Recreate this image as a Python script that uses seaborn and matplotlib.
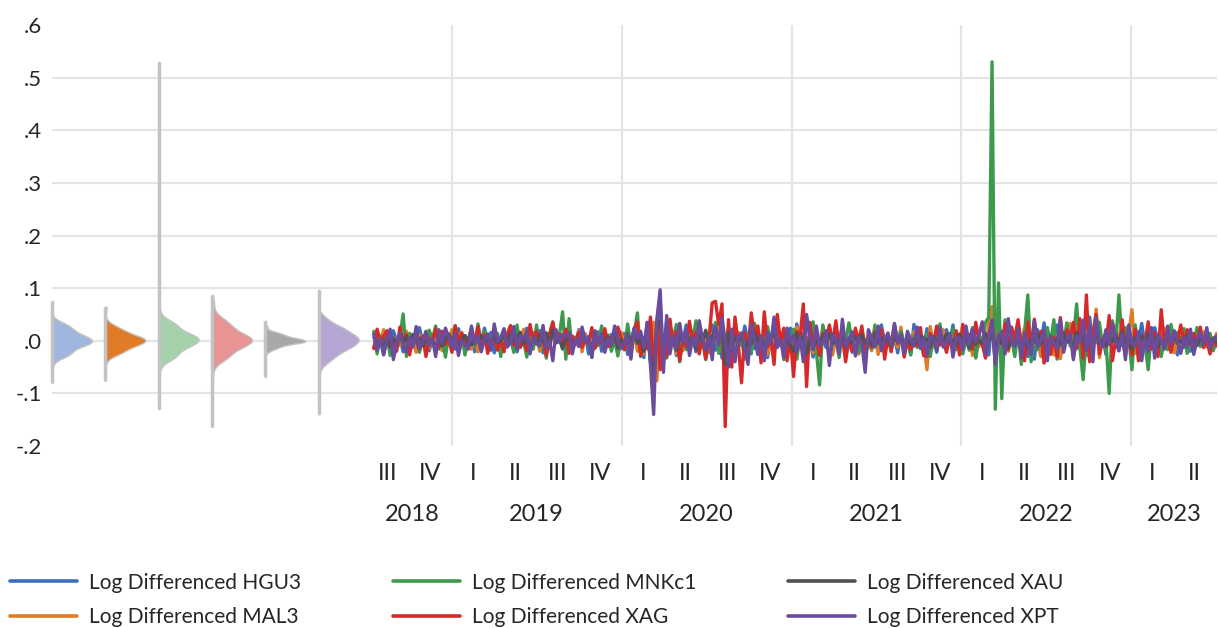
import numpy as np
import pandas as pd
import matplotlib
matplotlib.use("Agg")
import matplotlib.pyplot as plt
import matplotlib.dates as mdates
from matplotlib.lines import Line2D
import seaborn as sns

# ---------------- data ----------------
series_names = ["HGU3", "MAL3", "MNKc1", "XAG", "XAU", "XPT"]
legend_prefix = "Log Differenced "
line_colors = ["#3b6fbe", "#e07b28", "#3d9a4c", "#d62a2a", "#515151", "#6b4c9c"]
violin_colors = ["#9fb7de", "#e07b28", "#a5d2ab", "#e89495", "#a8a8a8", "#b6a6d3"]
quarter_labels = ["I", "II", "III", "IV"]
y_ticks = [-0.2, -0.1, 0.0, 0.1, 0.2, 0.3, 0.4, 0.5, 0.6]
y_tick_labels = ["-.2", "-.1", ".0", ".1", ".2", ".3", ".4", ".5", ".6"]
start_date = "2018-07-17"   # weekly observations

hgu3 = [
    .014, -.004, .003, -.026, .009, -.013, .019, -.001, .006, -.021,
    .016, -.008, .002, -.015, .025, -.005, .012, -.019, .001, -.01,
    .021, -.003, .013, -.007, .004, -.016, .023, -.001, .009, -.012,
    .005, -.021, .011, -.002, .024, -.008, .016, -.023, .001, .004,
    -.018, .007, -.003, .012, -.021, .001, -.009, .024, -.006, .015,
    -.004, .019, -.023, .005, -.011, .025, -.002, .008, -.016, .001,
    -.019, .003, -.006, .021, -.001, .013, -.025, .006, -.009, .017,
    -.02, .003, -.008, .012, -.001, .022, -.005, .014, -.026, .002,
    .023, -.011, .004, -.032, .035, -.04, -.08, .03, .076, -.035,
    .04, -.012, .006, -.028, .016, -.003, .03, -.007, .009, -.021,
    .029, -.005, .012, -.001, .03, -.018, .008, -.033, .004, -.011,
    .021, -.027, .003, -.009, .028, -.002, .033, -.015, .006, -.029,
    .017, -.032, .005, -.012, .034, -.001, .009, -.004, .024, -.018,
    .032, -.009, .015, -.006, .002, -.031, .018, -.024, .003, -.013,
    .026, -.003, .011, -.004, .028, -.017, .001, -.022, .006, -.025,
    .014, -.028, .005, -.009, .023, -.001, .03, -.003, .012, -.019,
    .008, -.023, .016, -.006, .002, -.027, .031, -.011, .004, -.014,
    .023, -.007, .003, -.022, .012, -.001, .021, -.005, .03, -.013,
    .006, -.024, .017, -.004, .025, -.031, .009, -.002, .014, -.027,
    .038, -.045, .035, -.04, .005, -.012, .026, -.008, .031, -.003,
    .013, -.03, .004, -.035, .021, -.006, .034, -.005, .011, -.022,
    .03, -.007, .016, -.002, .026, -.031, .005, -.014, .003, -.028,
    .045, -.01, .022, -.004, .008, -.026, .036, -.001, .017, -.005,
    .011, -.025, .006, -.03, .016, -.002, .033, -.009, .004, -.016,
    .025, -.001, .012, -.005, .028, -.011, .006, -.027, .003, -.013,
    .012, -.02, .004, -.008, .021, -.001, .009, -.016, .003, -.007,
]

mal3 = [
    -.012, .005, -.003, .021, -.008, .001, -.015, .004, -.009, .013,
    .018, -.006, .002, -.022, .011, -.001, .005, -.014, .008, -.003,
    .013, -.019, .004, -.007, .021, -.002, .01, .016, -.003, -.009,
    -.016, .005, -.021, .008, -.001, .012, -.004, .017, -.011, .002,
    .017, -.004, .009, -.018, .002, -.013, .022, -.006, .003, -.011,
    .006, -.02, .011, .001, -.015, .021, -.004, .009, -.005, .013,
    -.017, .002, -.008, .019, -.021, .012, -.001, .005, -.014, .007,
    .013, -.005, .001, -.012, .02, -.003, .016, -.008, .004, -.018,
    .018, -.02, .006, -.025, .03, -.009, .035, -.076, .028, -.012,
    .025, -.004, .011, -.024, .002, -.019, .003, -.006, .018, -.001,
    .024, -.008, .005, -.023, .014, -.002, .028, -.003, .009, -.027,
    .007, -.024, .016, -.006, .001, -.012, .019, .004, .027, -.01,
    .012, -.026, .003, -.001, .025, -.009, .006, -.018, .002, -.022,
    .026, -.005, .008, -.015, .001, -.023, .004, -.011, .027, -.002,
    .013, -.027, .009, -.003, .02, -.006, .001, -.016, .005, -.025,
    .021, -.004, .002, -.019, .011, -.026, .007, -.001, .015, -.008,
    .004, -.012, .026, -.028, .003, -.007, .017, -.002, .009, -.005,
    -.055, .027, -.012, .004, -.003, .021, -.014, .008, -.002, .013,
    -.016, .03, -.005, .009, -.028, .002, -.011, .006, -.031, .035,
    .065, -.04, .045, -.038, .005, -.02, .013, -.007, .03, -.004,
    .024, -.008, .011, -.006, .001, -.03, .019, -.014, .003, -.027,
    .01, -.034, .005, -.002, .033, -.016, .035, -.009, .007, -.019,
    .021, -.005, .06, -.032, .004, -.014, .013, -.001, .029, -.003,
    .006, -.028, .012, .059, -.024, .005, -.01, .002, -.022, .018,
    -.015, .002, -.004, .024, -.009, .016, -.023, .003, -.011, .019,
    -.021, .004, -.008, .005, -.001, .017, -.012, .009, -.004, .014,
]

mnkc1 = [
    .018, -.025, .009, -.004, .012, -.028, .002, -.015, .006, .051,
    -.03, .014, -.008, .005, -.022, .001, -.019, .02, .003, .028,
    -.016, .006, -.031, .011, -.003, .029, -.004, .013, -.027, .002,
    .025, -.01, .032, -.006, .018, -.002, .008, .002, .014, -.03,
    .021, -.007, .005, -.022, .03, -.012, .001, -.031, .004, -.016,
    .03, -.011, .006, -.033, .013, .036, -.003, .008, .055, -.035,
    .042, -.02, .007, -.005, .023, -.001, .003, -.032, .016, -.009,
    .028, -.004, .011, -.02, .002, -.029, .006, -.017, .032, -.012,
    .015, .053, -.03, .006, -.005, .02, -.05, .034, -.008, .012,
    -.033, .016, .004, .031, -.04, .009, -.017, .006, -.001, .038,
    -.018, .002, -.036, .005, -.011, .035, -.024, .01, -.003, .026,
    -.03, .016, -.007, .004, -.035, .012, -.025, .033, -.006, .001,
    -.012, .027, -.005, .034, -.001, .014, -.036, .002, -.009, .022,
    -.035, .01, -.018, .006, -.003, .036, -.02, -.084, .03, -.004,
    .021, -.008, .005, -.032, .013, -.002, .034, -.003, .017, -.022,
    .006, -.031, .004, -.015, .03, -.007, .013, -.021, .001, -.009,
    .03, -.004, .018, -.005, .002, -.026, .009, -.013, .003, -.028,
    .014, -.03, .007, -.001, .032, -.011, .006, -.004, .023, -.017,
    .009, -.025, .004, -.018, .024, -.033, .012, -.006, .035, .045,
    .53, -.13, .11, -.11, .04, -.015, .005, -.03, .018, -.045,
    .016, .087, -.04, .004, -.017, .01, -.042, .025, -.006, .04,
    -.035, .018, -.005, .034, -.01, .003, .07, -.013, -.074, .012,
    -.036, .02, -.004, .035, -.01, .003, -.1, .038, -.012, .087,
    -.01, .025, .006, -.055, .03, -.013, .008, -.005, -.055, .02,
    -.015, .008, -.03, .004, -.017, .031, -.002, .016, -.003, .023,
    -.024, .007, -.006, .025, -.011, .002, .003, .014, -.019, .001,
]

xag = [
    -.015, .022, -.003, .008, .019, -.011, .001, -.02, .026, -.004,
    .012, -.027, .006, .002, -.016, .009, -.03, .005, -.001, .023,
    -.012, .018, -.007, .004, -.022, .028, -.002, .014, -.009, .003,
    .016, -.004, .027, -.006, .011, -.024, .001, .009, -.018, .005,
    -.021, .013, .029, -.008, .003, -.012, .006, -.019, .031, -.002,
    .018, -.005, .004, -.028, .011, .035, -.001, .013, -.007, .022,
    -.024, .009, -.003, .016, -.012, .002, -.006, .025, -.014, .001,
    -.004, .023, -.011, .007, -.002, .026, .005, -.017, .013, -.03,
    .022, .036, -.028, .006, -.015, .045, -.063, .04, -.055, .012,
    -.03, .041, -.007, .018, -.038, .004, -.011, .037, -.002, .016,
    -.025, .009, -.034, .003, .072, .075, .03, .07, -.163, .04,
    -.05, .045, -.006, -.08, .015, -.02, .053, .004, .028, -.042,
    .055, -.012, .005, -.045, .05, -.003, .024, -.038, .007, -.068,
    .018, .008, .07, -.087, .035, -.011, .004, -.028, .013, -.002,
    .03, -.006, .038, -.014, .009, -.04, .003, -.019, .024, -.001,
    .028, -.033, .005, -.012, .017, -.004, .022, -.035, .008, -.021,
    .03, -.005, .011, -.031, .002, -.017, .003, -.009, .025, -.028,
    -.03, .014, -.004, .028, -.008, .001, -.022, .006, -.013, .019,
    -.027, .031, .005, .012, -.016, .035, -.002, -.007, -.033, .01,
    .038, -.04, .011, -.006, .033, -.017, .025, .004, .04, -.009,
    -.038, .036, -.013, .041, -.005, .018, -.042, .003, -.026, .007,
    -.031, .044, -.009, .021, .006, .035, -.015, .042, -.033, .087,
    -.04, .016, .05, -.025, .004, -.011, .048, -.038, .002, -.019,
    .04, -.012, .005, -.027, .022, -.038, .009, -.004, .036, -.015,
    .016, -.03, .059, -.008, .006, -.022, .011, -.002, .03, -.005,
    .021, -.007, .014, -.003, .026, -.013, .001, -.025, .005, -.01,
]

xau = [
    .006, -.002, .001, -.007, .004, -.012, .003, -.001, .009, -.005,
    .008, -.003, .012, -.001, .005, -.009, .002, -.006, .001, -.011,
    .004, -.01, .002, .013, -.001, .006, -.008, .002, .01, -.003,
    -.008, .005, -.002, .009, -.001, .003, -.013, .007, -.004, .001,
    .01, -.003, .014, -.001, .006, .016, -.005, .002, -.012, .004,
    -.006, .012, -.001, .015, -.009, .02, -.004, .003, -.014, .002,
    .009, -.011, .001, -.005, .014, -.002, .003, -.013, .006, -.001,
    .012, -.004, .007, -.001, .011, -.014, .002, -.006, .013, -.003,
    .015, -.005, .004, -.02, .025, -.035, -.068, .03, .038, -.025,
    .028, -.009, .003, -.018, .007, -.001, .019, -.004, .002, -.016,
    .012, -.002, .02, -.008, .006, .025, .003, .028, -.045, .015,
    -.02, .007, -.003, .012, -.018, .001, -.006, .016, -.002, .009,
    -.014, .004, -.001, .018, -.007, .003, -.017, .001, -.009, -.02,
    .014, -.003, .008, -.024, .002, -.011, .001, -.006, .01, -.002,
    .013, -.005, .003, -.001, .009, -.012, .001, -.004, .007, -.002,
    .011, -.003, .002, -.008, .014, -.001, .006, -.003, .004, -.01,
    .005, -.002, .011, -.013, .001, -.006, .003, -.004, .009, -.001,
    .003, -.012, .008, -.001, .006, -.002, .013, -.004, .001, -.009,
    .013, -.003, .005, -.014, .002, -.007, .001, -.004, .014, -.002,
    .02, -.018, .006, -.005, .004, -.013, .002, -.008, .001, -.014,
    .007, -.015, .003, -.002, .014, -.006, .001, -.016, .002, -.005,
    .004, -.008, .015, -.003, .001, -.012, .016, -.002, .006, -.018,
    .009, -.003, .018, -.004, .002, -.011, .007, -.001, .012, -.006,
    .017, -.002, .003, -.016, .006, -.001, .009, -.004, .013, -.003,
    .005, -.011, .001, -.003, .01, -.002, .014, -.006, .001, -.008,
    .01, -.004, .002, -.009, .003, -.001, .008, -.003, .005, -.002,
]

xpt = [
    .012, -.018, .004, -.027, .001, .022, -.036, -.006, .015, -.009,
    -.022, .006, -.012, .027, -.015, -.001, .018, -.009, .004, -.03,
    .019, -.004, .024, .007, -.011, .014, -.028, .001, -.006, -.016,
    .028, -.006, .009, -.021, .003, .013, -.018, .032, -.001, .007,
    .023, -.012, -.004, .027, -.016, .01, .002, .018, -.025, .006,
    -.005, -.009, .029, -.014, .001, -.038, .021, -.003, .012, .007,
    .016, -.025, .004, -.011, .026, -.002, .008, -.031, .019, -.006,
    .013, -.022, .004, -.009, .028, .001, -.015, -.006, .011, -.035,
    .024, .005, .018, -.012, .035, -.045, -.14, .042, .097, -.06,
    .048, -.025, .009, -.014, .033, -.004, .021, -.028, .006, -.011,
    .038, .004, -.018, .011, -.036, .027, -.008, .044, -.002, -.05,
    .022, -.04, .007, .015, -.012, -.045, .031, .003, -.026, .009,
    -.038, .016, -.006, .045, -.013, .002, -.032, .024, -.004, .011,
    -.021, .008, -.04, .05, .006, -.017, .028, -.009, -.003, .019,
    -.047, .013, .002, -.025, .041, -.011, .004, .017, -.029, .007,
    -.006, -.06, .021, .005, -.012, .028, -.019, .001, .014, -.009,
    .033, -.004, .012, -.024, .018, .002, -.01, .026, -.015, .007,
    -.028, .009, .003, -.019, .025, -.012, -.001, .014, -.031, .006,
    .005, -.017, .028, -.008, .021, -.002, .012, .036, -.026, .004,
    .04, -.045, .005, .018, -.025, .042, -.004, -.011, .023, -.033,
    .016, -.006, -.026, .037, -.012, .001, .021, -.038, .009, -.003,
    -.015, .041, -.022, .005, .013, -.036, .008, -.002, .039, -.018,
    .028, -.04, .045, -.004, -.011, .021, -.007, .033, .002, -.019,
    .014, -.036, .03, -.005, -.009, .017, -.038, .004, -.021, .025,
    -.033, .011, .002, -.016, .027, -.007, .019, -.001, -.024, .006,
    -.012, .022, -.026, .003, .016, -.008, .025, -.014, .001, .009,
]

all_values = [hgu3, mal3, mnkc1, xag, xau, xpt]
n_obs = len(xpt)
for nm, vals in zip(series_names, all_values):
    if len(vals) != n_obs:
        raise ValueError(f"{nm} has {len(vals)} values, expected {n_obs}")

dates = pd.date_range(start_date, periods=n_obs, freq="7D")
labels = [legend_prefix + s for s in series_names]
df = pd.DataFrame({
    "date": np.tile(dates, len(series_names)),
    "value": np.concatenate([np.asarray(v, float) for v in all_values]),
    "series": np.repeat(labels, n_obs),
})

# ---------------- style ----------------
sns.set_style("white")
plt.rcParams["font.family"] = ["Lato", "DejaVu Sans"]
GRID = "#e4e4e4"
VLINE = "#c3c3c3"

W, H = 1218, 628
fig = plt.figure(figsize=(W / 100, H / 100), dpi=100)
ax_v = fig.add_axes([52 / W, 1 - 446 / H, 320 / W, 421 / H])
ax_t = fig.add_axes([372 / W, 1 - 446 / H, 845 / W, 421 / H], sharey=ax_v)

# ---------------- time series ----------------
sns.lineplot(data=df, x="date", y="value", hue="series", hue_order=labels,
             palette=dict(zip(labels, line_colors)), linewidth=2.4,
             estimator=None, errorbar=None, sort=False, legend=False, ax=ax_t)

x0, x1 = pd.Timestamp("2018-07-13"), pd.Timestamp("2023-07-05")
ax_t.set_xlim(x0, x1)
for yr in range(2019, 2024):
    ax_t.axvline(pd.Timestamp(f"{yr}-01-01"), color=GRID, lw=1.5, zorder=0)

quarters = pd.period_range("2018Q3", "2023Q2", freq="Q")
q_centers = [p.start_time + (p.end_time - p.start_time) / 2 for p in quarters]
q_text = [quarter_labels[p.quarter - 1] for p in quarters]
ax_t.set_xticks(mdates.date2num(q_centers))
ax_t.set_xticklabels(q_text)
years = list(range(2018, 2024))
y_centers = []
for yr in years:
    a = max(pd.Timestamp(f"{yr}-01-01"), x0)
    b = min(pd.Timestamp(f"{yr + 1}-01-01"), x1)
    y_centers.append(a + (b - a) / 2)
ax_t.set_xticks(mdates.date2num(y_centers), minor=True)
ax_t.set_xticklabels([str(y) for y in years], minor=True)
ax_t.tick_params(axis="x", which="both", length=0, labelsize=17)
ax_t.tick_params(axis="x", which="major", pad=12)
ax_t.tick_params(axis="x", which="minor", pad=42)
ax_t.tick_params(axis="y", left=False, labelleft=False)
ax_t.set_xlabel("")
ax_t.set_ylabel("")

# ---------------- violins (half kernel densities) ----------------
for i, (vals, vc) in enumerate(zip(all_values, violin_colors)):
    v = np.asarray(vals, float)
    n = len(v)
    q75, q25 = np.percentile(v, [75, 25])
    h = 1.06 * min(v.std(ddof=1), (q75 - q25) / 1.34) * n ** (-0.2)
    grid = np.linspace(v.min(), v.max(), 800)
    dens = np.exp(-0.5 * ((grid[:, None] - v[None, :]) / h) ** 2).sum(axis=1)
    width = 0.75 * dens / dens.max()
    ax_v.fill_betweenx(grid, i, i + width, facecolor=vc, edgecolor=VLINE,
                       linewidth=1.0, zorder=2)
    ax_v.vlines(i, v.min(), v.max(), color=VLINE, lw=2.5, zorder=3, clip_on=False)

ax_v.set_xlim(0, 6)
ax_v.set_ylim(y_ticks[0], y_ticks[-1])
ax_v.set_xticks([])
ax_v.set_yticks(y_ticks)
ax_v.set_yticklabels(y_tick_labels)
ax_v.tick_params(axis="y", length=0, pad=7, labelsize=16)

for ax in (ax_v, ax_t):
    for yv in y_ticks[1:-1]:
        ax.axhline(yv, color=GRID, lw=1.5, zorder=0)
    for s in ax.spines.values():
        s.set_visible(False)

# ---------------- legend ----------------
handles = [Line2D([], [], color=c, lw=2.6) for c in line_colors]
fig.legend(handles, labels, ncol=3, loc="center left",
           bbox_to_anchor=(10 / W, 1 - 600 / H), frameon=False, fontsize=15,
           handlelength=3.2, handletextpad=0.6, columnspacing=4.4,
           labelspacing=0.7, borderpad=0, borderaxespad=0)

fig.savefig("out.png", dpi=100)
